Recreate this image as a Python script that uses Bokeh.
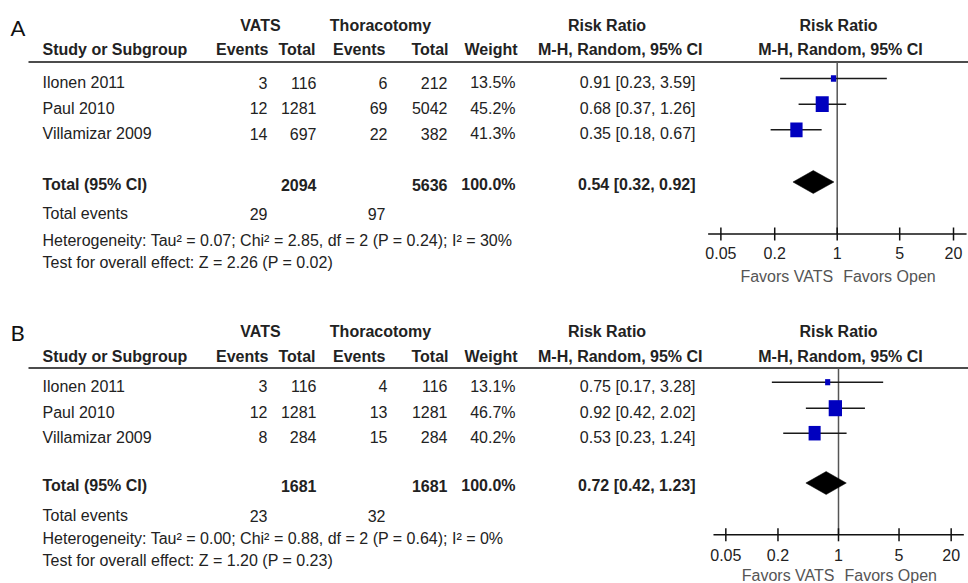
import math
from bokeh.plotting import figure
from bokeh.models import Range1d, LogScale
from bokeh.core.properties import value
from bokeh.embed import file_html
from bokeh.resources import INLINE

# ---------------- data ----------------
studies = ["Ilonen 2011", "Paul 2010", "Villamizar 2009"]

a_vats_events = [3, 12, 14]
a_vats_total = [116, 1281, 697]
a_thor_events = [6, 69, 22]
a_thor_total = [212, 5042, 382]
a_weight = [13.5, 45.2, 41.3]
a_rr = [0.91, 0.68, 0.35]
a_lo = [0.23, 0.37, 0.18]
a_hi = [3.59, 1.26, 0.67]
a_sum_totals = [2094, 5636]
a_sum_rr = [0.54, 0.32, 0.92]
a_sum_events = [29, 97]
a_het = "Heterogeneity: Tau² = 0.07; Chi² = 2.85, df = 2 (P = 0.24); I² = 30%"
a_test = "Test for overall effect: Z = 2.26 (P = 0.02)"

b_vats_events = [3, 12, 8]
b_vats_total = [116, 1281, 284]
b_thor_events = [4, 13, 15]
b_thor_total = [116, 1281, 284]
b_weight = [13.1, 46.7, 40.2]
b_rr = [0.75, 0.92, 0.53]
b_lo = [0.17, 0.42, 0.23]
b_hi = [3.28, 2.02, 1.24]
b_sum_totals = [1681, 1681]
b_sum_rr = [0.72, 0.42, 1.23]
b_sum_events = [23, 32]
b_het = "Heterogeneity: Tau² = 0.00; Chi² = 0.88, df = 2 (P = 0.64); I² = 0%"
b_test = "Test for overall effect: Z = 1.20 (P = 0.23)"

tick_values = [0.05, 0.2, 1, 5, 20]
tick_labels = ["0.05", "0.2", "1", "5", "20"]
null_value = 1
axis_extent = [0.036, 28]

# ---------------- style / layout ----------------
FONT = value("Liberation Sans")
FS = "16px"
TXT = "#222222"
BLUE = "#0000BF"

W, H = 968, 583
p = figure(width=W, height=H, x_range=Range1d(0, W), y_range=Range1d(H, 0),
           output_backend="svg", toolbar_location=None, min_border=0,
           x_axis_location=None, y_axis_location=None, outline_line_color=None)
p.grid.visible = False
p.background_fill_color = "white"
p.border_fill_color = "white"


def log_range(center_px, px_per_decade):
    start = 10 ** ((0 - center_px) / px_per_decade)
    end = 10 ** ((W - center_px) / px_per_decade)
    return Range1d(start, end)


p.extra_x_ranges = {"logA": log_range(836.7, 89.4), "logB": log_range(838.0, 86.6)}
p.extra_x_scales = {"logA": LogScale(), "logB": LogScale()}


def txt(x, y, t, align="left", bold=False, color=TXT, size=FS, font=FONT, rn="default", xo=0):
    p.text(x=x, y=y, text=t, text_align=align, text_baseline="middle",
           text_font=font, text_font_size=size, text_color=color, x_offset=xo,
           text_font_style="bold" if bold else "normal", x_range_name=rn)


def panel(letter, L, ve, vt, te, tt, wt, rr, lo, hi, sums, srr, sev, het, test, rn):
    # letter
    txt([10], [L["letter"]], [letter], font=value("Lato"), size="22px", color="#111111")
    # header row 1
    txt([260, 380, 606.5, 838], [L["h1"]] * 4,
        ["VATS", "Thoracotomy", "Risk Ratio", "Risk Ratio"], align="center", bold=True)
    # header row 2
    txt([42], [L["h2"]], ["Study or Subgroup"], bold=True)
    txt([268, 315, 385, 448, 517, 702], [L["h2"]] * 6,
        ["Events", "Total", "Events", "Total", "Weight", "M-H, Random, 95% CI"],
        align="right", bold=True)
    txt([840], [L["h2"]], ["M-H, Random, 95% CI"], align="center", bold=True)
    p.segment(x0=[28], y0=[L["line"]], x1=[W], y1=[L["line"]], line_color="#111111", line_width=1.6)

    ys = L["rows"]
    txt([42] * 3, ys, studies)
    txt([267] * 3, ys, [str(v) for v in ve], align="right")
    txt([316] * 3, ys, [str(v) for v in vt], align="right")
    txt([387] * 3, ys, [str(v) for v in te], align="right")
    txt([447] * 3, ys, [str(v) for v in tt], align="right")
    txt([515] * 3, ys, [f"{w:.1f}%" for w in wt], align="right")
    txt([695] * 3, ys, [f"{r:.2f} [{a:.2f}, {b:.2f}]" for r, a, b in zip(rr, lo, hi)], align="right")

    ty = L["total"]
    txt([42], [ty], ["Total (95% CI)"], bold=True)
    txt([316, 447, 515, 695], [ty] * 4,
        [str(sums[0]), str(sums[1]), "100.0%", f"{srr[0]:.2f} [{srr[1]:.2f}, {srr[2]:.2f}]"],
        align="right", bold=True)
    txt([42], [L["events"]], ["Total events"])
    txt([267, 385], [L["events"]] * 2, [str(sev[0]), str(sev[1])], align="right")
    txt([42], [L["het"]], [het])
    txt([42], [L["test"]], [test])

    # forest
    my = [y - 4 for y in ys]
    p.segment(x0=[null_value], y0=[L["line"]], x1=[null_value], y1=[L["axis"]],
              line_color="#555555", line_width=1.5, x_range_name=rn)
    p.segment(x0=lo, y0=my, x1=hi, y1=my, line_color="#1a1a1a", line_width=1.5, x_range_name=rn)
    hs = [3.08 * math.sqrt(w) - 5.0 for w in wt]
    ws = [0.83 * h for h in hs]
    p.rect(x=rr, y=my, width=ws, height=hs, width_units="screen", height_units="screen",
           fill_color=BLUE, line_color=None, x_range_name=rn)
    dy = ty - 2.5
    p.patch(x=[srr[1], srr[0], srr[2], srr[0]], y=[dy, dy - 11.5, dy, dy + 11.5],
            fill_color="black", line_color="black", line_width=0.5, x_range_name=rn)

    ay = L["axis"]
    p.segment(x0=[axis_extent[0]], y0=[ay], x1=[axis_extent[1]], y1=[ay],
              line_color="#111111", line_width=1.5, x_range_name=rn)
    p.segment(x0=tick_values, y0=[ay - 6.5] * 5, x1=tick_values, y1=[ay + 6.5] * 5,
              line_color="#111111", line_width=1.5, x_range_name=rn)
    txt(tick_values, [L["ticks"]] * 5, tick_labels, align="center", rn=rn)
    txt([null_value], [L["favors"]], ["Favors VATS"], align="right", color="#555555", rn=rn, xo=-4)
    txt([null_value], [L["favors"]], ["Favors Open"], align="left", color="#555555", rn=rn, xo=6)


LA = dict(letter=27, h1=25, h2=48.5, line=61.5, rows=[82, 107.7, 133.3], total=184,
          events=213, het=239.5, test=262, axis=233.5, ticks=252, favors=276)
LB = dict(letter=331.5, h1=330.7, h2=355.5, line=367.5, rows=[385.7, 411.7, 436.7], total=485,
          events=515, het=538.3, test=560, axis=534.3, ticks=554.3, favors=575)

panel("A", LA, a_vats_events, a_vats_total, a_thor_events, a_thor_total, a_weight,
      a_rr, a_lo, a_hi, a_sum_totals, a_sum_rr, a_sum_events, a_het, a_test, "logA")
panel("B", LB, b_vats_events, b_vats_total, b_thor_events, b_thor_total, b_weight,
      b_rr, b_lo, b_hi, b_sum_totals, b_sum_rr, b_sum_events, b_het, b_test, "logB")

open("out.html", "w").write(file_html(p, INLINE))
